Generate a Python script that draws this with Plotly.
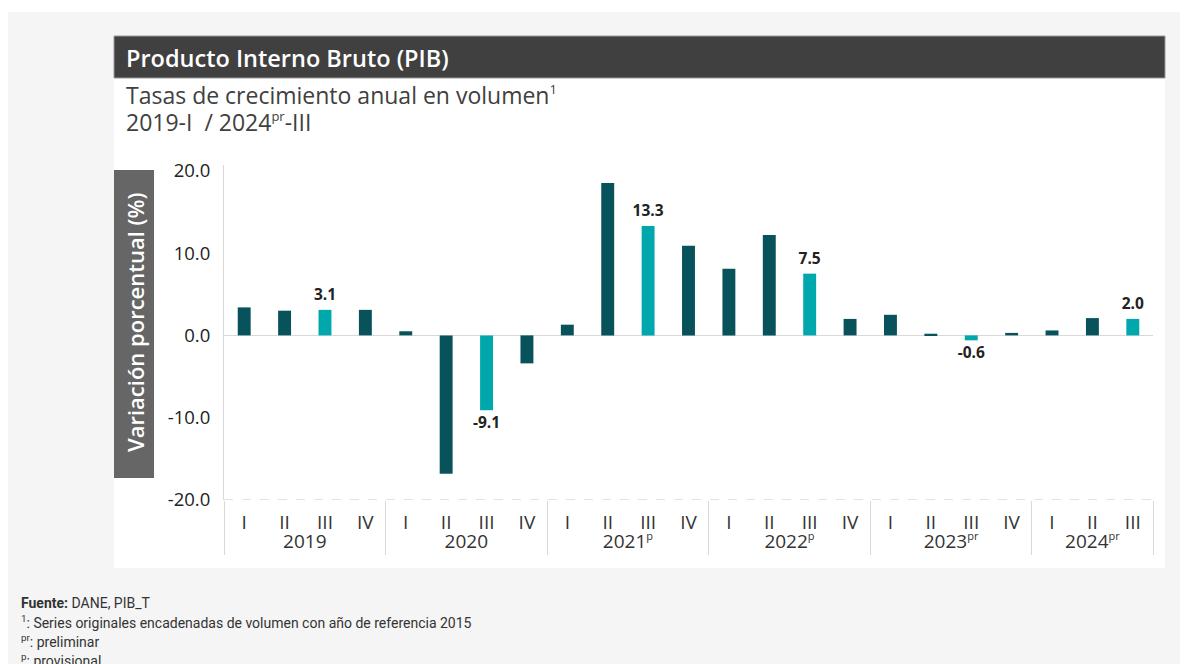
import plotly.graph_objects as go

SP = "<sup><span style='font-size:11px'>{}</span></sup>"
years = (["2019"] * 4 + ["2020"] * 4 + ["2021" + SP.format("p")] * 4 + ["2022" + SP.format("p")] * 4
         + ["2023" + SP.format("pr")] * 4 + ["2024" + SP.format("pr")] * 3)
quarters = ["I", "II", "III", "IV"] * 5 + ["I", "II", "III"]
values = [3.4, 3.0, 3.1, 3.1,
          0.5, -16.8, -9.1, -3.4,
          1.3, 18.5, 13.3, 10.9,
          8.1, 12.2, 7.5, 2.0,
          2.5, 0.2, -0.6, 0.3,
          0.6, 2.1, 2.0]
yticks = [-20, -10, 0, 10, 20]

DARK = "#08535b"
LIGHT = "#00a8ad"

OFF = 8  # page body margin
W, H = 1188 - OFF, 664 - OFF
L, R, T, B = 224 - OFF, 1153 - OFF, 165 - OFF, 500 - OFF


def px(x):
    return (x - OFF - L) / (R - L)


def py(y):
    return (B - (y - OFF)) / (B - T)


colors = [LIGHT if q == "III" else DARK for q in quarters]

fig = go.Figure()
fig.add_trace(go.Bar(x=[years, quarters], y=values, marker=dict(color=colors, line=dict(width=0)),
                     hoverinfo="skip"))

lx = [[], []]
ly, lt, lp = [], [], []
for yr, q, v in zip(years, quarters, values):
    if q == "III":
        lx[0].append(yr)
        lx[1].append(q)
        ly.append(v)
        lt.append(f"{v:.1f}")
        lp.append("top center" if v >= 0 else "bottom center")
fig.add_trace(go.Scatter(x=lx, y=ly, mode="markers+text", text=lt, textposition=lp,
                         marker=dict(size=8, opacity=0),
                         textfont=dict(family="Open Sans", size=15.5, color="#222222", weight=700),
                         hoverinfo="skip", cliponaxis=False))

shapes = [
    dict(type="rect", xref="paper", yref="paper", x0=px(8), x1=px(1200), y0=py(12), y1=py(680),
         fillcolor="#f5f5f5", line=dict(width=0), layer="below"),
    dict(type="rect", xref="paper", yref="paper", x0=px(114), x1=px(1165), y0=py(36), y1=py(568),
         fillcolor="#ffffff", line=dict(width=0), layer="below"),
    dict(type="rect", xref="paper", yref="paper", x0=px(114), x1=px(1165), y0=py(36), y1=py(78),
         fillcolor="#404040", line=dict(width=1, color="#9a9a9a"), layer="below"),
    dict(type="rect", xref="paper", yref="paper", x0=px(114), x1=px(154), y0=py(170), y1=py(478),
         fillcolor="#666666", line=dict(width=0), layer="below"),
    dict(type="line", xref="paper", yref="y", x0=0, x1=1, y0=-20, y1=-20,
         line=dict(color="#c4c4c4", width=1, dash="dash"), layer="above"),
]

annotations = [
    dict(text="Producto Interno Bruto (PIB)", xref="paper", yref="paper", x=px(124), y=py(58),
         xanchor="left", yanchor="middle", showarrow=False,
         font=dict(family="Open Sans", size=23.5, color="#ffffff", weight=600)),
    dict(text="Tasas de crecimiento anual en volumen<sup><span style='font-size:13px'>1</span></sup>",
         xref="paper", yref="paper",
         x=px(124), y=py(95), xanchor="left", yanchor="middle", showarrow=False,
         font=dict(family="Open Sans", size=23, color="#404040")),
    dict(text="2019-I  / 2024<sup><span style='font-size:13px'>pr</span></sup>-III", xref="paper", yref="paper",
         x=px(124), y=py(122), xanchor="left", yanchor="middle", showarrow=False,
         font=dict(family="Open Sans", size=23, color="#404040")),
    dict(text="Variación porcentual (%)", xref="paper", yref="paper", x=px(135), y=py(323),
         xanchor="center", yanchor="middle", textangle=-90, showarrow=False,
         font=dict(family="Open Sans", size=22, color="#ffffff", weight=600)),
]

foot = [
    "<b>Fuente:</b> DANE, PIB_T",
    "<sup>1</sup>: Series originales encadenadas de volumen con año de referencia 2015",
    "<sup>pr</sup>: preliminar",
    "<sup>p</sup>: provisional",
]
for i, t in enumerate(foot):
    annotations.append(dict(text=t, xref="paper", yref="paper", x=px(19), y=py(603 + 19 * i),
                            xanchor="left", yanchor="middle", showarrow=False,
                            font=dict(family="Roboto", size=14, color="#333333")))

fig.update_layout(
    width=W, height=H, autosize=False,
    margin=dict(l=L, r=W - R, t=T, b=H - B, pad=0),
    paper_bgcolor="#ffffff", plot_bgcolor="rgba(0,0,0,0)",
    showlegend=False, bargap=0.68,
    shapes=shapes, annotations=annotations,
    font=dict(family="Open Sans", color="#333333"),
)
fig.update_xaxes(type="multicategory", range=[-0.5, len(values) - 0.5],
                 showgrid=False, showline=False, ticks="",
                 ticklabelstandoff=9,
                 tickfont=dict(family="Open Sans", size=19, color="#333333"),
                 showdividers=True, dividercolor="#d9d9d9", dividerwidth=1)
fig.update_yaxes(range=[-20, 20.7], tickvals=yticks, ticktext=[f"{v:.1f}" for v in yticks],
                 showgrid=False, zeroline=True, zerolinecolor="#d9d9d9", zerolinewidth=1,
                 showline=True, linecolor="#d9d9d9", linewidth=1, ticks="",
                 ticklabelstandoff=9,
                 tickfont=dict(family="Open Sans", size=18.5, color="#222222"))

fig.write_html("out.html")
